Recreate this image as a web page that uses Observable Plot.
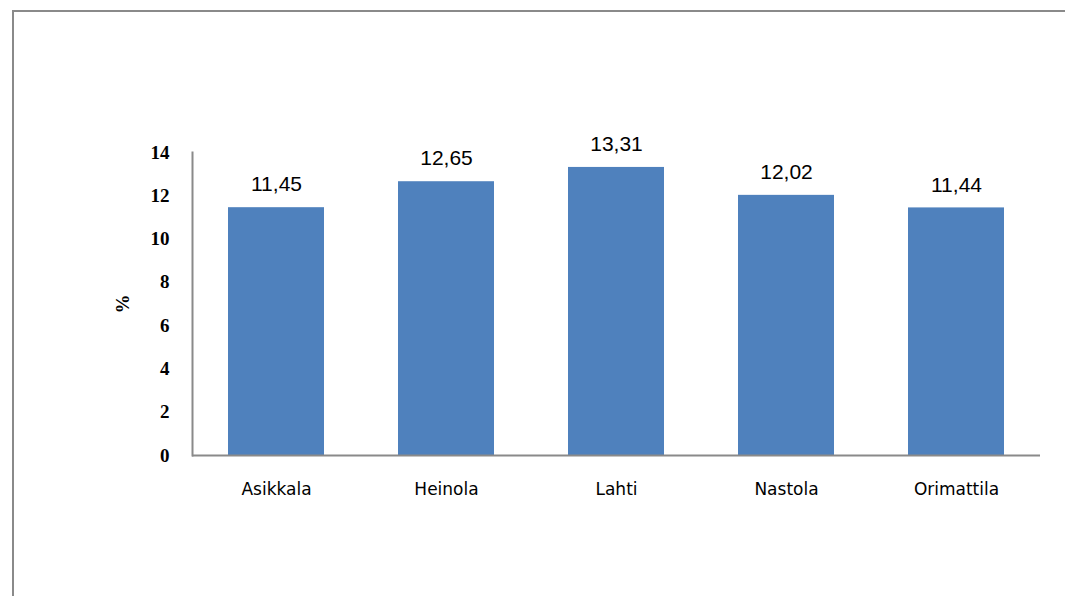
<!DOCTYPE html>
<html>
<head>
<meta charset="utf-8">
<script src="https://cdn.jsdelivr.net/npm/d3@7"></script>
<script src="https://cdn.jsdelivr.net/npm/@observablehq/plot@0.6"></script>
<style>
  body { margin: 0; background: #fff; }
  #chart { position: relative; width: 1065px; height: 596px; overflow: hidden; }
  #chart svg { position: absolute; left: 0; top: 0; }
  #frame { position: absolute; left: 12px; top: 10px; right: -10px; bottom: -10px;
           border-top: 2px solid #8a8a8a; border-left: 2px solid #8a8a8a; pointer-events: none; }
</style>
</head>
<body>
<div id="chart"><div id="frame"></div></div>
<script>
// Share (%) by municipality
const municipalities = ["Asikkala", "Heinola", "Lahti", "Nastola", "Orimattila"];
const shares = [11.45, 12.65, 13.31, 12.02, 11.44];
const yTicks = [0, 2, 4, 6, 8, 10, 12, 14];

const data = municipalities.map((m, i) => ({ m, v: shares[i] }));
const fmt = v => v.toFixed(2).replace(".", ",");

const axisGray = "#8a8a8a";

const plot = Plot.plot({
  width: 1065,
  height: 596,
  marginLeft: 192,
  marginRight: 25,
  marginTop: 152,
  marginBottom: 141,
  style: { background: "transparent", overflow: "visible" },
  x: { domain: municipalities, paddingInner: 0.436, paddingOuter: 0.209 },
  y: { domain: [0, 14] },
  marks: [
    Plot.barY(data, { x: "m", y: "v", fill: "#4f81bd" }),
    Plot.ruleY([0], { stroke: axisGray, strokeWidth: 2 }),
    Plot.frame({ anchor: "left", stroke: axisGray, strokeWidth: 2, strokeOpacity: 1 }),
    Plot.axisY(yTicks, {
      tickSize: 0,
      tickPadding: 23,
      fontFamily: "Liberation Serif",
      fontWeight: "bold",
      fontSize: 19,
      fill: "#000",
      label: "%",
      labelAnchor: "center",
      labelArrow: "none",
      labelOffset: 77
    }),
    Plot.axisX({
      tickSize: 0,
      tickPadding: 27,
      fontFamily: "DejaVu Sans",
      fontSize: 17,
      fontWeight: 500,
      fill: "#000",
      label: null
    }),
    Plot.text(data, {
      x: "m",
      y: "v",
      text: d => fmt(d.v),
      dy: -23,
      fontFamily: "Liberation Sans",
      fontSize: 21,
      fill: "#000"
    })
  ]
});

document.getElementById("chart").insertBefore(plot, document.getElementById("frame"));
</script>
</body>
</html>
